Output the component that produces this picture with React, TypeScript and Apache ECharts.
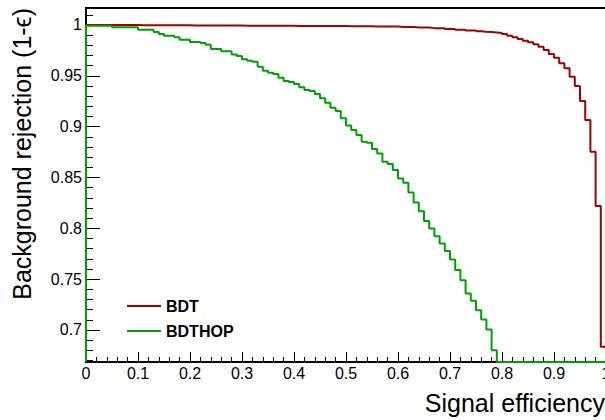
import React, { useEffect, useRef } from 'react';
import * as echarts from 'echarts';

// ---- data ----
const seriesNames = ['BDT', 'BDTHOP'];
const seriesColors = ['#a00000', '#00a000'];

// Background rejection per signal-efficiency bin (100 bins of width 0.01)
const bdtRejection = [
  1.0, 1.0, 1.0, 1.0, 1.0, 1.0, 1.0, 1.0, 1.0, 1.0,
  0.9998, 0.9998, 0.9998, 0.9998, 0.9998, 0.9998, 0.9998, 0.9998, 0.9998, 0.9998,
  0.9996, 0.9996, 0.9996, 0.9996, 0.9996, 0.9996, 0.9996, 0.9996, 0.9996, 0.9996,
  0.9993, 0.9993, 0.9993, 0.9993, 0.9993, 0.9993, 0.9993, 0.9993, 0.9993, 0.9993,
  0.999, 0.999, 0.999, 0.999, 0.999, 0.999, 0.999, 0.999, 0.999, 0.999,
  0.9987, 0.9987, 0.9987, 0.9987, 0.9987, 0.9984, 0.9984, 0.9984, 0.9984, 0.9984,
  0.998, 0.998, 0.998, 0.9975, 0.9975, 0.9975, 0.9969, 0.9969, 0.9969, 0.9961,
  0.9961, 0.9953, 0.9953, 0.9946, 0.9946, 0.9939, 0.9934, 0.9931, 0.9926, 0.9921,
  0.9911, 0.9895, 0.9879, 0.9862, 0.9845, 0.983, 0.981, 0.9786, 0.9754, 0.9715,
  0.9678, 0.9623, 0.9574, 0.9491, 0.94, 0.9252, 0.9065, 0.8753, 0.8219, 0.6834,
];

const bdthopRejection = [
  0.9992, 0.9992, 0.9992, 0.9992, 0.9992, 0.9978, 0.9978, 0.9978, 0.9978, 0.9978,
  0.9954, 0.9954, 0.9954, 0.9931, 0.9911, 0.9895, 0.9895, 0.9879, 0.9855, 0.9855,
  0.9833, 0.9833, 0.9823, 0.9806, 0.9764, 0.9764, 0.9741, 0.9741, 0.971, 0.9695,
  0.9662, 0.9649, 0.9639, 0.959, 0.955, 0.9531, 0.9518, 0.9481, 0.9449, 0.9439,
  0.9419, 0.9387, 0.936, 0.935, 0.9321, 0.9279, 0.9235, 0.9186, 0.9154, 0.9082,
  0.9011, 0.8967, 0.8917, 0.8851, 0.8842, 0.878, 0.8737, 0.8655, 0.8632, 0.8573,
  0.8491, 0.8448, 0.8353, 0.8255, 0.8169, 0.8071, 0.7999, 0.7923, 0.7851, 0.7776,
  0.7694, 0.7589, 0.749, 0.7359, 0.7287, 0.7195, 0.7103, 0.7005, 0.6801, 0,
  0, 0, 0, 0, 0, 0, 0, 0, 0, 0,
  0, 0, 0, 0, 0, 0, 0, 0, 0, 0,
];

const xTickLabels = ['0', '0.1', '0.2', '0.3', '0.4', '0.5', '0.6', '0.7', '0.8', '0.9', '1'];
const yTickLabels = ['0.7', '0.75', '0.8', '0.85', '0.9', '0.95', '1'];

const BIN_WIDTH = 0.01;
const X_MIN = 0;
const X_MAX = 1;
const Y_MIN = 0.6685;
const Y_MAX = 1.0167;
const FONT = '"Liberation Sans", Arial, Helvetica, sans-serif';

// histogram drawn as steps; values below the frame are clipped to the frame bottom (as ROOT does)
function histogramSteps(values: number[], floor: number): number[][] {
  const pts: number[][] = [[0, floor]];
  values.forEach((v, i) => {
    const y = Math.max(v, floor);
    pts.push([i * BIN_WIDTH, y], [(i + 1) * BIN_WIDTH, y]);
  });
  pts.push([values.length * BIN_WIDTH, floor]);
  return pts;
}

export default function App() {
  const ref = useRef<HTMLDivElement>(null);

  useEffect(() => {
    if (!ref.current) return;
    const chart = echarts.init(ref.current, undefined, { renderer: 'svg' });
    const allValues = [bdtRejection, bdthopRejection];

    const option: any = {
      animation: false,
      backgroundColor: '#ffffff',
      textStyle: { fontFamily: FONT },
      grid: {
        left: 86,
        top: 8,
        width: 520,
        height: 354,
        show: true,
        borderColor: '#000',
        borderWidth: 2,
        backgroundColor: 'transparent',
        containLabel: false,
        outerBoundsMode: 'none',
      },
      legend: {
        data: seriesNames.map((name) => ({ name, icon: 'rect' })),
        orient: 'vertical',
        left: 127,
        top: 298,
        padding: 0,
        itemWidth: 34,
        itemHeight: 2,
        itemGap: 9,
        textStyle: { fontFamily: FONT, fontWeight: 'bold', fontSize: 16, color: '#000' },
        selectedMode: false,
      },
      xAxis: {
        type: 'value',
        min: X_MIN,
        max: X_MAX,
        interval: 0.1,
        splitLine: { show: false },
        axisLine: { show: true, lineStyle: { color: '#000', width: 2 } },
        axisTick: { show: true, inside: true, length: 10, lineStyle: { color: '#000', width: 1 } },
        minorTick: { show: true, splitNumber: 5, length: 5, lineStyle: { color: '#000', width: 1 } },
        axisLabel: {
          show: true,
          inside: false,
          margin: 3,
          color: '#000',
          fontSize: 16,
          fontFamily: FONT,
          formatter: (v: number) => {
            const i = Math.round(v * 10);
            return Math.abs(v - i / 10) < 1e-6 && i >= 0 && i < xTickLabels.length ? xTickLabels[i] : '';
          },
        },
      },
      yAxis: {
        type: 'value',
        min: Y_MIN,
        max: Y_MAX,
        minInterval: 0.05,
        maxInterval: 0.05,
        splitLine: { show: false },
        axisLine: { show: true, lineStyle: { color: '#000', width: 2 } },
        axisTick: { show: true, inside: true, length: 14, lineStyle: { color: '#000', width: 1 } },
        minorTick: { show: true, splitNumber: 5, length: 7, lineStyle: { color: '#000', width: 1 } },
        axisLabel: {
          show: true,
          margin: 4,
          color: '#000',
          fontSize: 16,
          fontFamily: FONT,
          formatter: (v: number) => {
            const i = Math.round((v - 0.7) / 0.05);
            return i >= 0 && i < yTickLabels.length && Math.abs(v - (0.7 + i * 0.05)) < 1e-6 ? yTickLabels[i] : '';
          },
        },
      },
      series: seriesNames.map((name, k) => ({
        name,
        type: 'line',
        data: histogramSteps(allValues[k], Y_MIN),
        symbol: 'none',
        showSymbol: false,
        clip: true,
        color: seriesColors[k],
        itemStyle: { color: seriesColors[k] },
        lineStyle: { color: seriesColors[k], width: 2 },
        z: 3 + k,
      })),
      graphic: [
        {
          type: 'text',
          x: 605,
          y: 403,
          style: {
            text: 'Signal efficiency',
            font: '25px ' + FONT,
            fill: '#000',
            align: 'right',
            verticalAlign: 'middle',
            textAlign: 'right',
            textVerticalAlign: 'middle',
          },
        },
        {
          type: 'text',
          x: 22,
          y: 8,
          rotation: Math.PI / 2,
          style: {
            text: 'Background rejection (1-\u03F5)',
            font: '25px ' + FONT,
            fill: '#000',
            align: 'right',
            verticalAlign: 'middle',
            textAlign: 'right',
            textVerticalAlign: 'middle',
          },
        },
      ],
    };

    chart.setOption(option);
    return () => chart.dispose();
  }, []);

  return (
    <div
      ref={ref}
      style={{ position: 'absolute', left: 0, top: 0, width: 605, height: 420, background: '#fff' }}
    />
  );
}
